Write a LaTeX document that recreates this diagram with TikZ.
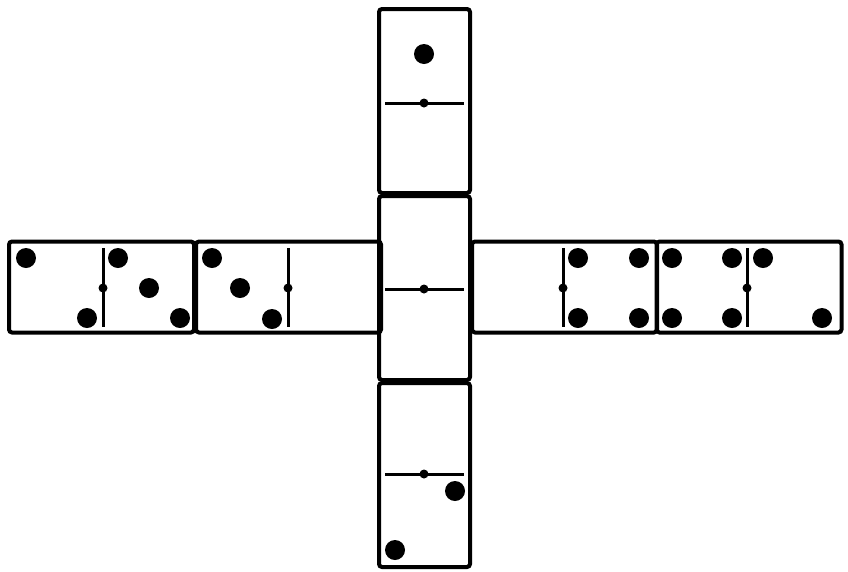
\documentclass[tikz,border=0pt]{standalone}
\usepackage{tikz}

\begin{document}
\begin{tikzpicture}[
  x=1pt, y=-1pt,
  hbone/.style={draw, line width=4pt, rounded corners=3pt, inner sep=0pt, minimum width=185pt, minimum height=91pt},
  vbone/.style={draw, line width=4pt, rounded corners=3pt, inner sep=0pt, minimum width=91pt, minimum height=184pt},
  bar/.style={line width=3pt},
  pip/.style={fill=black}]
\useasboundingbox (0,0) rectangle (848,571);
% the tiles
\node[hbone] (left2)  at (101.5,287) {};
\node[hbone] (left1)  at (288.5,287) {};
\node[vbone] (top)    at (424.5,101) {};
\node[vbone] (centre) at (424.5,288) {};
\node[vbone] (bottom) at (424.5,475) {};
\node[hbone] (right1) at (564.5,287) {};
\node[hbone] (right2) at (749,287) {};
% dividers
\foreach \t/\c in {left2/103, left1/288, right1/563, right2/747} {
  \draw[bar] (\c,248) -- (\c,327);
  \fill (\c,288) circle (4.5pt);
}
\foreach \t/\c in {top/103, centre/289, bottom/474} {
  \draw[bar] (385,\c) -- (464,\c);
  \fill (424,\c) circle (4.5pt);
}
% pips
\foreach \p in {(26,258), (87,318), (118,258), (149,288), (180,318),
                (212,258), (240,288), (272,319),
                (424,54),
                (455,491), (395,550),
                (578,258), (639,258), (578,318), (639,318),
                (672,258), (732,258), (672,318), (732,318), (763,258), (822,318)}
  \fill[pip] \p circle (10pt);
\end{tikzpicture}
\end{document}
